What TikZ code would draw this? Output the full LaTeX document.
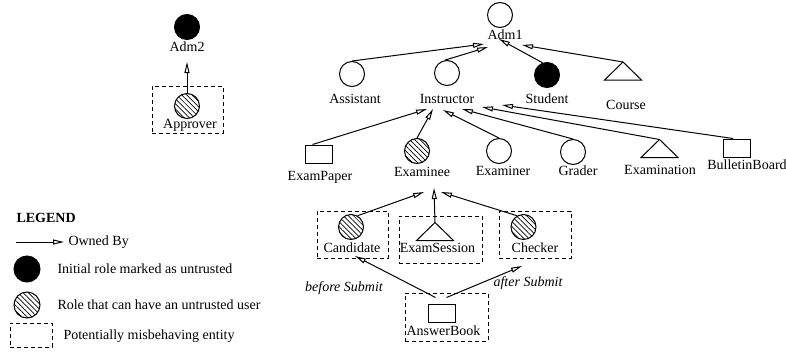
\documentclass[tikz,border=0pt]{standalone}
\usepackage{fontspec}
\setmainfont{Liberation Serif}
\usetikzlibrary{arrows.meta, calc, patterns.meta}

\begin{document}
\begin{tikzpicture}[
    x=1pt, y=-1pt,
    >={Triangle[open, length=11pt, width=5pt]},
    font=\fontsize{14}{16}\selectfont,
    line width=1pt,
    role/.style={circle, draw, minimum size=25pt, inner sep=0pt},
    badrole/.style={role, fill=black},
    riskrole/.style={role, pattern={Lines[angle=-45, distance=3.6pt, line width=0.7pt]}},
    thing/.style={draw, minimum width=27pt, minimum height=18pt, inner sep=0pt},
    tribox/.style={minimum width=36pt, minimum height=17pt, inner sep=0pt},
    lbl/.style={inner sep=0pt},
    riskbox/.style={draw, dash pattern=on 4pt off 3pt, inner sep=0pt},
    own/.style={->}
]
\useasboundingbox (0,0) rectangle (786,351);

% Adm2 side
\node[riskbox, minimum width=71pt, minimum height=47pt] (apprbox) at (187.5,109.5) {};
\node[badrole] (adm2) at (187,27) {};
\node[lbl] (adm2l) at (187,47) {Adm2};
\node[riskrole] (appr) at (187,106) {};
\node[lbl] (apprl) at (190,125) {Approver};

% Adm1 and its roles
\node[role] (adm1) at (500,15) {};
\node[lbl] (adm1l) at (505,35) {Adm1};
\node[role] (asst) at (352,74) {};
\node[lbl] (asstl) at (355,99) {Assistant};
\node[role] (instr) at (447,73) {};
\node[lbl] (instrl) at (447,99) {Instructor};
\node[badrole] (stud) at (547,75) {};
\node[lbl] (studl) at (547,99) {Student};
\node[tribox] (course) at (623,71) {};
\node[lbl] (coursel) at (626,105) {Course};

% owned by Instructor
\node[thing] (paper) at (318.5,154) {};
\node[lbl] (paperl) at (320,177) {ExamPaper};
\node[riskrole] (exee) at (417,151) {};
\node[lbl] (exeel) at (422,172) {Examinee};
\node[role] (exer) at (499,151) {};
\node[lbl] (exerl) at (503,171) {Examiner};
\node[role] (grad) at (573,152) {};
\node[lbl] (gradl) at (578,171) {Grader};
\node[tribox] (exam) at (659.5,148.5) {};
\node[lbl] (examl) at (660,170) {Examination};
\node[thing] (board) at (737,148) {};
\node[lbl] (boardl) at (747,165) {BulletinBoard};

% owned by Examinee
\node[riskbox, minimum width=71pt, minimum height=47pt] (candbox) at (352.5,234.5) {};
\node[riskrole] (cand) at (351,227) {};
\node[lbl] (candl) at (352,248) {Candidate};
\node[riskbox, minimum width=83pt, minimum height=47pt] (sessbox) at (440.5,239.5) {};
\node[tribox] (sess) at (435,231.5) {};
\node[lbl] (sessl) at (437.5,248) {ExamSession};
\node[riskbox, minimum width=72pt, minimum height=47pt] (chkbox) at (535,234.5) {};
\node[riskrole] (chk) at (523.5,227) {};
\node[lbl] (chkl) at (535,248) {Checker};
\node[riskbox, minimum width=83pt, minimum height=48pt] (ansbox) at (446.5,317) {};
\node[thing] (ans) at (441.5,313.5) {};
\node[lbl] (ansl) at (443.5,331) {AnswerBook};
\node[lbl, font=\fontsize{14}{16}\selectfont\itshape] (before) at (344,288) {before Submit};
\node[lbl, font=\fontsize{14}{16}\selectfont\itshape] (after) at (528,283) {after Submit};

\foreach \t in {course, exam, sess}
    \draw (\t.north) -- (\t.south east) -- (\t.south west) -- cycle;

\draw[own] (appr.north) -- ($(adm2l)+(0,15)$);
\draw[own] (asst.north) -- ($(adm1l)+(-21,9)$);
\draw[own] (instr.100) -- ($(adm1l)+(-17,12)$);
\draw[own] (stud.110) -- ($(adm1l)+(-6,4)$);
\draw[own] (course.north) -- ($(adm1l)+(17,10)$);

\draw[own] ($(paper.north)+(-6,0)$) -- ($(instrl)+(-20,10)$);
\draw[own] (exee.north) -- ($(instrl)+(-14,10)$);
\draw[own] (exer.north) -- ($(instrl)+(-4,11)$);
\draw[own] (grad.north) -- ($(instrl)+(15,10)$);
\draw[own] (exam.north) -- ($(instrl)+(35,8)$);
\draw[own] ($(board.north)+(-4,0)$) -- ($(instrl)+(55,6)$);

\draw[own] (cand.60) -- ($(exeel)+(2,20)$);
\draw[own] (sess.north) -- ($(exeel)+(12,16)$);
\draw[own] (chk.120) -- ($(exeel)+(19,20)$);

\draw[own] ($(ansbox.north)+(-11,5)$) -- ($(candl)+(3,8)$);
\draw[own] ($(ansbox.north)+(0,5)$) -- ($(chkl)+(-13,18)$);

% legend
\node[lbl, font=\fontsize{14}{16}\selectfont\bfseries, anchor=west] (leg) at (16,218) {LEGEND};
\coordinate (ownA) at (16,242);
\node[lbl, anchor=west] (ownl) at (68,242) {Owned By};
\draw[own, shorten >=4pt] (ownA) -- (ownl.west);
\node[badrole, minimum size=26pt] (legbad) at (27,269) {};
\node[lbl, anchor=west] (legbadl) at (57,269) {Initial role marked as untrusted};
\node[riskrole, minimum size=26pt] (legrisk) at (27,305) {};
\node[lbl, anchor=west] (legriskl) at (57,305) {Role that can have an untrusted user};
\node[riskbox, minimum width=42pt, minimum height=24pt] (legbox) at (31,335) {};
\node[lbl, anchor=west] (legboxl) at (63,336) {Potentially misbehaving entity};

\end{tikzpicture}
\end{document}
